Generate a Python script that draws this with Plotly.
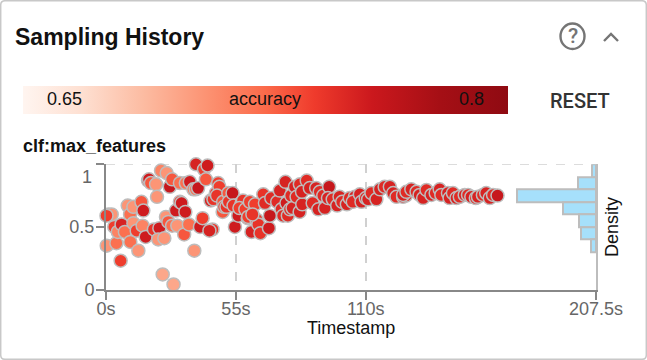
import plotly.graph_objects as go

W, H = 647, 360
X0, X1, Y_TOP, Y_BOT = 106, 596, 164.3, 289.5

timestamps = [0.3,1,2.4,0.2,4.4,3.5,5,6.6,6.2,8,9.2,10.2,11.6,11.6,10.3,13,13.7,15,15.8,15.5,16.8,
 17.8,18.2,19,20.3,21.2,21.6,22.6,22.1,23.3,24.7,24,25.7,25.4,26.4,27,28,28.6,28,29.6,30.2,31.3,31.3,32,33.1,33.6,33.8,35.1,35.5,37,37.4,38,38.1,39,39.8,40.9,41.5,42.3,43,44.3,45.1,43.8,
 45.5,46.5,47.5,48,47,49.4,49.6,50,51,51.8,52,53.6,54.6,54,56,57.4,58,56.5,59,60,60.2,60.9,61.6,63.1,63.7,64.5,65.4,62,66.6,67.3,69,69.4,70,72.5,73.6,74.3,75,76,76.4,77,77.9,78.4,79,80,80.7,82,82.1,83.1,83,85,86.3,87.5,89,89.9,90.5,92,92.7,94.5,94,96,97.9,98.9,100,102,103.2,105.4,104.5,107.5,108.2,110,111,112.4,114.5,116,118,120.2,121.6,123,125.8,128,127,
 125.8,127.2,129.3,131.5,132.8,134.3,135.7,137.8,139.6,141.3,142,144.8,145.5,146.9,148.4,149.8,151.9,153.3,154.7,156.6,157.5,159.6,161,162.5,163.9,165.8]
objective = [0.35,0.6,0.6,0.59,0.37,0.5,0.46,0.52,0.23,0.46,0.67,0.6,0.66,0.53,0.38,0.47,0.31,0.7,0.63,0.51,0.42,
 0.87,0.88,0.85,0.48,0.84,0.74,0.49,0.4,0.95,0.41,0.12,0.93,0.58,0.54,0.82,0.88,0.04,0.51,0.63,0.51,0.85,0.7,0.69,0.44,0.62,0.85,0.52,0.86,0.8,0.31,0.8,1.0,0.81,0.5,0.57,0.96,0.88,0.99,0.71,0.48,0.47,
 0.72,0.77,0.85,0.82,0.75,0.62,0.7,0.66,0.66,0.77,0.7,0.77,0.5,0.67,0.59,0.69,0.71,0.65,0.64,0.57,0.58,0.7,0.46,0.68,0.56,0.52,0.45,0.6,0.76,0.69,0.49,0.59,0.73,0.7,0.79,0.64,0.59,0.86,0.69,0.59,0.64,0.75,0.65,0.82,0.74,0.62,0.84,0.68,0.78,0.87,0.81,0.69,0.81,0.64,0.78,0.75,0.65,0.82,0.73,0.72,0.67,0.74,0.7,0.68,0.73,0.74,0.7,0.76,0.7,0.73,0.72,0.77,0.72,0.8,0.82,0.82,0.77,0.74,0.74,0.78,0.75,
 0.755,0.78,0.8,0.78,0.755,0.73,0.795,0.755,0.77,0.8,0.755,0.77,0.73,0.77,0.73,0.74,0.755,0.755,0.74,0.73,0.74,0.755,0.77,0.73,0.755,0.75]
accuracy = [0.70,0.735,0.70,0.74,0.72,0.74,0.71,0.755,0.74,0.72,0.70,0.72,0.70,0.70,0.72,0.74,0.70,0.73,0.76,0.71,0.76,
 0.755,0.76,0.73,0.745,0.70,0.70,0.76,0.70,0.71,0.70,0.69,0.70,0.70,0.73,0.765,0.73,0.69,0.72,0.76,0.70,0.72,0.74,0.76,0.73,0.76,0.72,0.72,0.76,0.72,0.70,0.72,0.755,0.765,0.76,0.74,0.74,0.73,0.76,0.755,0.745,0.755,
 0.745,0.745,0.74,0.74,0.745,0.73,0.73,0.74,0.745,0.73,0.745,0.765,0.76,0.745,0.76,0.745,0.745,0.74,0.74,0.745,0.74,0.74,0.755,0.74,0.745,0.745,0.745,0.745,0.745,0.75,0.76,0.765,0.75,0.75,0.755,0.75,0.75,0.755,0.76,0.75,0.75,0.75,0.755,0.755,0.75,0.755,0.75,0.755,0.755,0.75,0.755,0.75,0.755,0.755,0.75,0.75,0.755,0.765,0.755,0.75,0.755,0.755,0.75,0.755,0.75,0.755,0.75,0.755,0.755,0.75,0.755,0.75,0.755,0.755,0.75,0.755,0.755,0.75,0.755,0.755,0.75,
 0.755,0.75,0.755,0.75,0.755,0.755,0.75,0.755,0.75,0.755,0.75,0.755,0.755,0.75,0.755,0.75,0.755,0.75,0.755,0.75,0.755,0.75,0.755,0.755,0.75,0.765]

bin_centers = [0.95,0.85,0.75,0.65,0.55,0.45,0.35]
density = [0.25,1.07,4.61,1.93,0.99,0.86,0.29]
density_range_max = 28.6

x_ticks = [0,55,110,207.5]
x_tick_labels = ["0s","55s","110s","207.5s"]
y_ticks = [0,0.5,1]
y_tick_labels = ["0","0.5",""]

reds = [[0,"#fff5f0"],[0.12,"#fee0d2"],[0.25,"#fcbba1"],[0.38,"#fc9272"],[0.5,"#fb6a4a"],[0.6,"#ef3b2c"],[0.72,"#cb181d"],[0.86,"#a50f15"],[1,"#8f0a12"]]
CMIN, CMAX = 0.635, 0.811

fig = go.Figure()
fig.add_trace(go.Scatter(
    x=timestamps, y=objective, mode="markers", cliponaxis=False, showlegend=False,
    marker=dict(size=13, color=accuracy, cmin=CMIN, cmax=CMAX, colorscale=reds,
                line=dict(color="#bdbdbd", width=1.5),
                colorbar=dict(orientation="h", x=22.5/W, xanchor="left", y=1-114/H, yanchor="bottom",
                              len=485/W, lenmode="fraction", thickness=28, thicknessmode="pixels",
                              outlinewidth=0, xpad=0, ypad=0, showticklabels=False, ticks=""))))
fig.add_trace(go.Bar(
    x=density, y=bin_centers, width=0.1, orientation="h", xaxis="x2", yaxis="y2", showlegend=False,
    marker=dict(color="#a6e0fb", line=dict(color="#bdbdbd", width=2))))

ax_font = dict(family="Liberation Sans", size=18, color="#666666")
label_font = dict(family="Liberation Sans", size=18, color="#111111")
fig.update_layout(
    width=W, height=H, autosize=False, margin=dict(l=0,r=0,t=0,b=0,autoexpand=False),
    paper_bgcolor="white", plot_bgcolor="white",
    xaxis=dict(domain=[X0/W, X1/W], range=[0,207.5], tickvals=x_ticks, ticktext=x_tick_labels,
               tickfont=ax_font, ticks="outside", ticklen=8, tickwidth=1.5, tickcolor="#888888", ticklabelstandoff=-6,
               showline=True, linecolor="#888888", linewidth=2, zeroline=False,
               showgrid=True, gridcolor="#d0d0d0", griddash="dash", gridwidth=1.5),
    yaxis=dict(domain=[1-Y_BOT/H, 1-Y_TOP/H], range=[0,1], tickvals=y_ticks, ticktext=y_tick_labels,
               tickfont=ax_font, ticks="outside", ticklen=8, tickwidth=1.5, tickcolor="#888888", ticklabelstandoff=-2,
               showline=True, linecolor="#888888", linewidth=2, zeroline=False, showgrid=False),
    xaxis2=dict(domain=[X0/W, X1/W], overlaying="x", anchor="y2", range=[density_range_max,0], visible=False),
    yaxis2=dict(domain=[1-Y_BOT/H, 1-Y_TOP/H], overlaying="y", side="right", anchor="x2", range=[0,1],
                showline=True, linecolor="#bdbdbd", linewidth=2, showticklabels=False, ticks="", showgrid=False, zeroline=False,
                title=dict(text="Density", font=label_font, standoff=8)),
    bargap=0,
    shapes=[
        dict(type="path", xref="paper", yref="paper", line=dict(color="#c8c8c8", width=1.5), layer="below",
             path=f"M {0.7/W} {1-5/H} Q {0.7/W} {1-0.7/H} {5/W} {1-0.7/H} L {(W-5)/W} {1-0.7/H} Q {(W-0.7)/W} {1-0.7/H} {(W-0.7)/W} {1-5/H} L {(W-0.7)/W} {5/H} Q {(W-0.7)/W} {0.7/H} {(W-5)/W} {0.7/H} L {5/W} {0.7/H} Q {0.7/W} {0.7/H} {0.7/W} {5/H} Z"),
        dict(type="line", xref="x", yref="y", x0=0, x1=207.5, y0=1, y1=1, layer="below",
             line=dict(color="#d0d0d0", width=1.5, dash="dash")),
        dict(type="circle", xref="paper", yref="paper", x0=560.5/W, x1=584.5/W, y0=1-49/H, y1=1-23.5/H,
             line=dict(color="#757575", width=2.4)),
        dict(type="path", xref="paper", yref="paper", line=dict(color="#757575", width=2.4),
             path=f"M {604/W} {1-41/H} L {611/W} {1-34/H} L {618/W} {1-41/H}"),
    ],
    annotations=[
        dict(text="<b>Sampling History</b>", xref="paper", yref="paper", x=12.5/W, y=1-37/H, xanchor="left", yanchor="middle", showarrow=False,
             font=dict(family="Liberation Sans", size=23, color="#111111")),
        dict(text="?", xref="paper", yref="paper", x=572.5/W, y=1-36.5/H, xanchor="center", yanchor="middle", showarrow=False,
             font=dict(family="Roboto", size=21, color="#757575", weight=500)),
        dict(text="0.65", xref="paper", yref="paper", x=64/W, y=1-99/H, xanchor="center", yanchor="middle", showarrow=False, font=label_font),
        dict(text="accuracy", xref="paper", yref="paper", x=265/W, y=1-99/H, xanchor="center", yanchor="middle", showarrow=False, font=label_font),
        dict(text="0.8", xref="paper", yref="paper", x=471/W, y=1-99/H, xanchor="center", yanchor="middle", showarrow=False, font=label_font),
        dict(text="RESET", xref="paper", yref="paper", x=580/W, y=1-101/H, xanchor="center", yanchor="middle", showarrow=False,
             font=dict(family="Roboto", size=20, color="#333333", weight=500)),
        dict(text="<b>clf:max_features</b>", xref="paper", yref="paper", x=20.5/W, y=1-146/H, xanchor="left", yanchor="middle", showarrow=False, font=label_font),
        dict(text="1", xref="paper", yref="paper", x=94/W, y=1-177/H, xanchor="right", yanchor="middle", showarrow=False, font=ax_font),
        dict(text="Timestamp", xref="paper", yref="paper", x=351/W, y=1-328/H, xanchor="center", yanchor="middle", showarrow=False, borderpad=0, font=label_font),
    ],
)
fig.write_html("out.html", config=dict(displayModeBar=False),
               post_script="document.body.style.margin='0';document.documentElement.style.overflow='hidden';")
